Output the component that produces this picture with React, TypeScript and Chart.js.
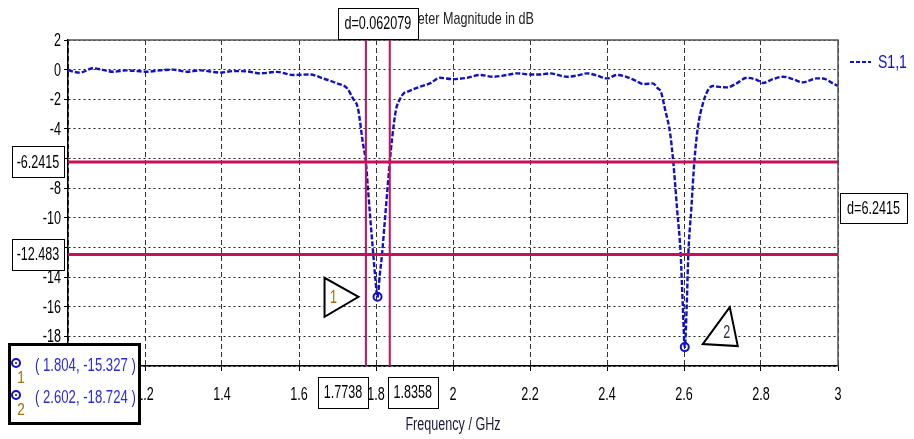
import React, { useEffect, useRef } from 'react';
import { Chart, registerables } from 'chart.js';

Chart.register(...registerables);

// ---- data ----
const freqs = [
  1.000, 1.031, 1.065, 1.090, 1.117, 1.153, 1.205, 1.239, 1.273, 1.309, 1.343, 1.395, 1.429, 1.465,
  1.499, 1.543, 1.584, 1.629, 1.662, 1.699, 1.725, 1.740, 1.753, 1.766, 1.7738, 1.779, 1.786, 1.793,
  1.798, 1.804, 1.810, 1.8156, 1.822, 1.829, 1.8358, 1.842, 1.852, 1.862, 1.872, 1.881, 1.914, 1.940,
  1.966, 2.000, 2.036, 2.070, 2.104, 2.140, 2.166, 2.200, 2.226, 2.252, 2.296, 2.322, 2.348, 2.374,
  2.400, 2.426, 2.452, 2.475, 2.494, 2.519, 2.532, 2.540, 2.551, 2.564, 2.5722, 2.582, 2.5914, 2.597,
  2.602, 2.607, 2.6112, 2.619, 2.6268, 2.636, 2.649, 2.662, 2.675, 2.686, 2.712, 2.732, 2.764, 2.790,
  2.805, 2.831, 2.857, 2.883, 2.909, 2.945, 2.961, 2.987, 3.000,
];
const s11 = [
  -0.05, -0.20, 0.09, -0.02, -0.14, -0.05, -0.14, -0.05, 0.00, -0.14, -0.05, -0.20, -0.10, -0.12,
  -0.25, -0.15, -0.36, -0.33, -0.59, -0.93, -1.26, -1.94, -2.60, -4.96, -6.24, -8.0, -10.3, -12.48,
  -14.0, -15.327, -13.8, -12.48, -10.5, -8.3, -6.24, -4.6, -2.7, -2.0, -1.6, -1.5, -1.15, -0.93,
  -0.55, -0.64, -0.55, -0.36, -0.48, -0.36, -0.25, -0.33, -0.33, -0.25, -0.48, -0.40, -0.25, -0.40,
  -0.59, -0.36, -0.50, -0.75, -0.97, -0.93, -1.26, -1.5, -2.7, -4.3, -6.24, -9.4, -12.48, -16.0,
  -18.724, -16.0, -12.48, -9.4, -6.24, -3.9, -2.3, -1.4, -1.1, -1.15, -1.2, -1.0, -0.55, -0.7,
  -0.9, -0.64, -0.48, -0.64, -0.86, -0.59, -0.6, -0.93, -1.1,
];
const markerFreqs = [1.804, 2.602];
const markerVals = [-15.327, -18.724];
const markerNames = ['1', '2'];
const markerTexts = ['( 1.804, -15.327 )', '( 2.602, -18.724 )'];
const deltaFreqs = [1.7738, 1.8358];
const deltaFreqLabels = ['1.7738', '1.8358'];
const levelVals = [-6.2415, -12.483];
const levelLabels = ['-6.2415', '-12.483'];
const deltaFreqText = 'd=0.062079';
const deltaLevelText = 'd=6.2415';
const chartTitle = 'S-Parameter Magnitude in dB';
const xTitle = 'Frequency / GHz';
const seriesName = 'S1,1';

const FONT = '"Liberation Sans", Arial, sans-serif';
const SX = 0.7;
const FS = 18;
const BLUE = '#1010cc';
const MARK = '#c8105a';

function fmt(v: number | string) {
  return String(parseFloat(Number(v).toFixed(3)));
}

function narrowText(
  ctx: CanvasRenderingContext2D,
  text: string,
  x: number,
  y: number,
  align: CanvasTextAlign,
  size: number,
  color: string,
  sx: number = SX,
) {
  ctx.save();
  ctx.translate(x, y);
  ctx.scale(sx, 1);
  ctx.font = `${size}px ${FONT}`;
  ctx.fillStyle = color;
  ctx.textAlign = align;
  ctx.textBaseline = 'middle';
  ctx.fillText(text, 0, 0);
  ctx.restore();
}

function textBox(ctx: CanvasRenderingContext2D, x: number, y: number, w: number, h: number, text: string) {
  ctx.save();
  ctx.fillStyle = '#fff';
  ctx.fillRect(x, y, w, h);
  ctx.strokeStyle = '#000';
  ctx.lineWidth = 1;
  ctx.strokeRect(Math.round(x) + 0.5, Math.round(y) + 0.5, Math.round(w), Math.round(h));
  ctx.restore();
  narrowText(ctx, text, x + w / 2, y + h / 2 + 1, 'center', FS, '#000');
}

function markerIcon(ctx: CanvasRenderingContext2D, x: number, y: number) {
  ctx.save();
  ctx.strokeStyle = BLUE;
  ctx.lineWidth = 2;
  ctx.beginPath();
  ctx.arc(x, y, 4, 0, Math.PI * 2);
  ctx.stroke();
  ctx.fillStyle = BLUE;
  ctx.beginPath();
  ctx.arc(x, y, 1, 0, Math.PI * 2);
  ctx.fill();
  ctx.restore();
}

const annotations = {
  id: 'annotations',
  afterDraw(chart: any) {
    const { ctx, chartArea } = chart;
    const { left, right, top, bottom } = chartArea;
    const xs = chart.scales.x;
    const ys = chart.scales.y;
    ctx.save();

    // frame top/right
    ctx.strokeStyle = '#555';
    ctx.lineWidth = 1.5;
    ctx.beginPath();
    ctx.moveTo(left, top);
    ctx.lineTo(right, top);
    ctx.lineTo(right, bottom);
    ctx.stroke();

    // tick labels from the scales
    xs.ticks.forEach((t: any) => {
      narrowText(ctx, fmt(t.value), xs.getPixelForValue(t.value), 395, 'center', FS, '#000');
    });
    ys.ticks.forEach((t: any) => {
      narrowText(ctx, fmt(t.value), left - 7, ys.getPixelForValue(t.value) + 1, 'right', FS, '#000');
    });

    // title
    narrowText(ctx, chartTitle, (left + right) / 2 - 2, 19, 'center', 17, '#222', 0.74);
    // x title
    narrowText(ctx, xTitle, (left + right) / 2, 425, 'center', FS, '#1a1a3a');

    // level lines
    const lp = levelVals.map((v) => ys.getPixelForValue(v));
    ctx.strokeStyle = MARK;
    ctx.lineWidth = 3;
    lp.forEach((py) => {
      ctx.beginPath();
      ctx.moveTo(left, py);
      ctx.lineTo(right, py);
      ctx.stroke();
    });
    // frequency lines
    const fp = deltaFreqs.map((f) => xs.getPixelForValue(f));
    ctx.lineWidth = 2;
    fp.forEach((px) => {
      ctx.beginPath();
      ctx.moveTo(px, top);
      ctx.lineTo(px, bottom);
      ctx.stroke();
    });

    // boxes
    const mid = (fp[0] + fp[1]) / 2;
    textBox(ctx, mid - 40, top - 32, 80, 31, deltaFreqText);
    lp.forEach((py, i) => textBox(ctx, 12, py - 16, 52, 31, levelLabels[i]));
    textBox(ctx, right + 2, (lp[0] + lp[1]) / 2 - 15, 67, 30, deltaLevelText);
    textBox(ctx, fp[0] + 2 - 50, bottom + 11, 50, 31, deltaFreqLabels[0]);
    textBox(ctx, fp[1] - 2, bottom + 11, 50, 31, deltaFreqLabels[1]);

    // markers
    const mp = markerFreqs.map((f, i) => [xs.getPixelForValue(f), ys.getPixelForValue(markerVals[i])]);
    mp.forEach(([px, py]) => markerIcon(ctx, px, py));

    // triangle 1 (pointing right)
    ctx.strokeStyle = '#000';
    ctx.lineWidth = 2;
    {
      const [px, py] = mp[0];
      ctx.fillStyle = '#fff';
      ctx.beginPath();
      ctx.moveTo(px - 19, py);
      ctx.lineTo(px - 53, py - 19);
      ctx.lineTo(px - 53, py + 20);
      ctx.closePath();
      ctx.fill();
      ctx.stroke();
      narrowText(ctx, markerNames[0], px - 44, py + 1, 'center', FS, '#a07010');
    }
    {
      const [px, py] = mp[1];
      ctx.fillStyle = '#fff';
      ctx.beginPath();
      ctx.moveTo(px + 18, py - 3);
      ctx.lineTo(px + 45, py - 40);
      ctx.lineTo(px + 53, py - 1);
      ctx.closePath();
      ctx.fill();
      ctx.stroke();
      narrowText(ctx, markerNames[1], px + 42, py - 14, 'center', FS, '#2a2a50');
    }

    // legend
    ctx.strokeStyle = BLUE;
    ctx.lineWidth = 2;
    ctx.setLineDash([4, 2]);
    ctx.beginPath();
    ctx.moveTo(850, 62);
    ctx.lineTo(871, 62);
    ctx.stroke();
    ctx.setLineDash([]);
    narrowText(ctx, seriesName, 878, 63, 'left', FS, BLUE, 0.78);

    // marker table
    ctx.fillStyle = '#fff';
    ctx.fillRect(8, 343, 132, 81);
    ctx.strokeStyle = '#000';
    ctx.lineWidth = 3;
    ctx.strokeRect(9.5, 344.5, 130, 79);
    const rows = [363, 395];
    rows.forEach((ry, i) => {
      markerIcon(ctx, 16, ry);
      narrowText(ctx, markerNames[i], 21, ry + 15, 'center', 17, '#a07010', 0.8);
      narrowText(ctx, markerTexts[i], 35, ry + 3, 'left', FS, '#2a2ae0', 0.73);
    });

    ctx.restore();
  },
};

export default function App() {
  const ref = useRef<HTMLCanvasElement>(null);
  useEffect(() => {
    document.body.style.margin = '0';
    document.body.style.overflow = 'hidden';
    const canvas = ref.current!;
    const chart = new Chart(canvas, {
      type: 'line',
      data: {
        datasets: [
          {
            label: seriesName,
            data: freqs.map((f, i) => ({ x: f, y: s11[i] })),
            borderColor: BLUE,
            borderWidth: 2.4,
            borderDash: [5, 2],
            pointRadius: 0,
            fill: false,
            cubicInterpolationMode: 'monotone',
          },
        ],
      },
      options: {
        animation: false,
        responsive: false,
        devicePixelRatio: 1,
        layout: { padding: { top: 40, right: 76, left: 0, bottom: 0 } },
        plugins: {
          legend: { display: false },
          title: { display: false },
          tooltip: { enabled: false },
        },
        scales: {
          x: {
            type: 'linear',
            min: 1,
            max: 3,
            ticks: { stepSize: 0.2, display: false, autoSkip: false, maxRotation: 0 },
            grid: { color: '#333', tickColor: '#000', tickLength: 5 },
            border: { dash: [5, 3], color: '#000', width: 1.5 },
            afterFit: (s: any) => {
              s.height = 73;
            },
          },
          y: {
            type: 'linear',
            min: -20,
            max: 2,
            ticks: { stepSize: 2, display: false, autoSkip: false },
            grid: { color: '#222', tickColor: '#000', tickLength: 4 },
            border: { dash: [2, 3], color: '#000', width: 1.5 },
            afterFit: (s: any) => {
              s.width = 68;
            },
          },
        },
      },
      plugins: [annotations],
    } as any);
    return () => chart.destroy();
  }, []);
  return <canvas ref={ref} width={914} height={439} style={{ display: 'block' }} />;
}
